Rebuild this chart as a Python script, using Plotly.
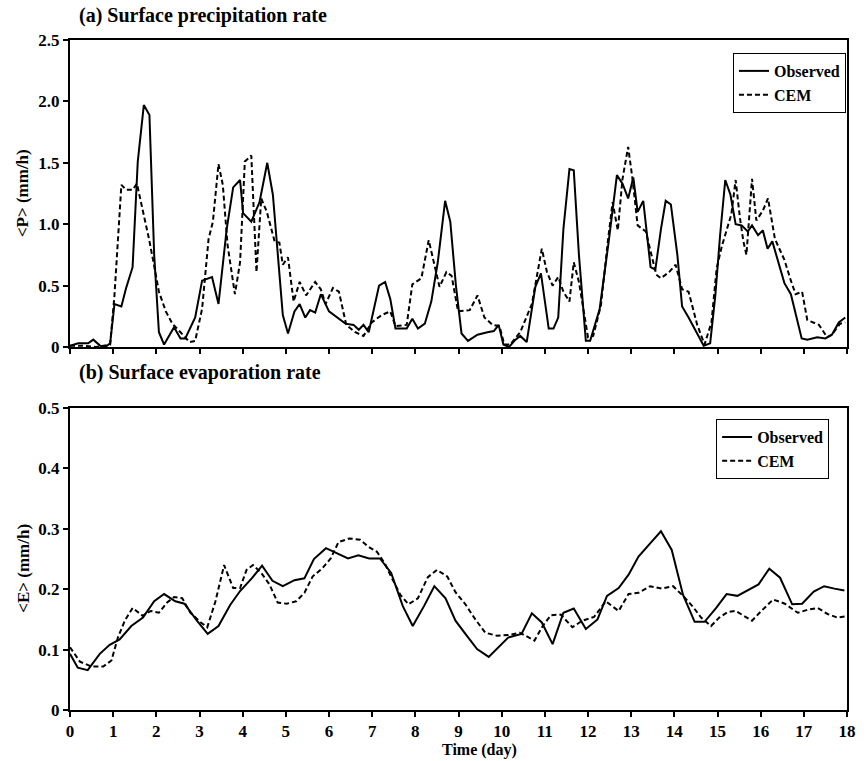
import plotly.graph_objects as go

# ---- (a) surface precipitation rate, mm/h ----
p_obs_t = [0.0, 0.19, 0.42, 0.54, 0.70, 0.82, 0.93, 1.03, 1.19, 1.30, 1.45, 1.57, 1.71, 1.84, 1.95,
           2.06, 2.18, 2.41, 2.56, 2.67, 2.90, 3.06, 3.29, 3.44, 3.63, 3.78, 3.94, 4.01, 4.20, 4.39,
           4.57, 4.70, 4.93, 5.05, 5.20, 5.32, 5.45, 5.56, 5.68, 5.81, 6.00, 6.20, 6.38, 6.57, 6.69,
           6.80, 6.92, 7.16, 7.30, 7.42, 7.54, 7.80, 7.93, 8.06, 8.22, 8.37, 8.52, 8.69, 8.81, 8.94,
           9.07, 9.22, 9.44, 9.67, 9.82, 9.93, 10.04, 10.17, 10.32, 10.43, 10.58, 10.78, 10.91, 11.09,
           11.20, 11.31, 11.43, 11.57, 11.67, 11.79, 11.95, 12.05, 12.27, 12.48, 12.67, 12.80, 12.93,
           13.05, 13.15, 13.28, 13.45, 13.56, 13.69, 13.80, 13.92, 14.07, 14.18, 14.33, 14.53, 14.68,
           14.83, 14.95, 15.06, 15.18, 15.30, 15.42, 15.56, 15.70, 15.80, 15.94, 16.05, 16.16, 16.27,
           16.55, 16.70, 16.95, 17.08, 17.31, 17.50, 17.65, 17.81, 17.96]
p_obs = [0.01, 0.03, 0.03, 0.06, 0.01, 0.00, 0.03, 0.35, 0.33, 0.48, 0.65, 1.51, 1.97, 1.89, 0.75,
         0.12, 0.02, 0.16, 0.07, 0.07, 0.24, 0.54, 0.57, 0.35, 0.96, 1.30, 1.36, 1.09, 1.02, 1.18,
         1.50, 1.24, 0.26, 0.11, 0.29, 0.35, 0.24, 0.30, 0.28, 0.43, 0.29, 0.24, 0.19, 0.18, 0.14,
         0.18, 0.12, 0.50, 0.53, 0.39, 0.15, 0.15, 0.23, 0.15, 0.19, 0.37, 0.69, 1.19, 1.02, 0.50,
         0.11, 0.05, 0.10, 0.12, 0.13, 0.18, 0.02, 0.00, 0.06, 0.09, 0.04, 0.49, 0.60, 0.15,
         0.15, 0.24, 0.96, 1.45, 1.44, 0.75, 0.05, 0.05, 0.31, 0.86, 1.40, 1.33, 1.21,
         1.38, 1.10, 1.19, 0.65, 0.63, 0.96, 1.19, 1.16, 0.75, 0.33, 0.24, 0.11, 0.01,
         0.03, 0.42, 0.91, 1.36, 1.24, 1.00, 0.99, 0.94, 0.99, 0.91, 0.95, 0.80, 0.86,
         0.52, 0.43, 0.07, 0.06, 0.08, 0.07, 0.10, 0.20, 0.24]

p_cem_t = [0.0, 0.30, 0.60, 0.93, 1.03, 1.19, 1.30, 1.45, 1.55, 1.68, 1.83, 1.95, 2.06, 2.22, 2.37,
           2.56, 2.77, 2.90, 3.06, 3.21, 3.31, 3.44, 3.54, 3.65, 3.82, 3.94, 4.05, 4.20, 4.32, 4.43,
           4.56, 4.74, 4.85, 4.93, 5.05, 5.18, 5.32, 5.47, 5.68, 5.81, 5.92, 6.09, 6.23, 6.40, 6.61,
           6.80, 6.99, 7.22, 7.42, 7.54, 7.80, 7.93, 8.14, 8.31, 8.45, 8.56, 8.72, 8.84, 8.99, 9.26,
           9.44, 9.60, 9.79, 9.95, 10.06, 10.20, 10.36, 10.43, 10.70, 10.93, 11.05, 11.18, 11.31,
           11.43, 11.57, 11.67, 11.79, 11.92, 12.00, 12.12, 12.30, 12.46, 12.57, 12.69, 12.80, 12.93,
           13.03, 13.15, 13.34, 13.58, 13.69, 13.88, 14.03, 14.18, 14.33, 14.53, 14.70, 14.86, 14.98,
           15.10, 15.23, 15.32, 15.42, 15.52, 15.60, 15.67, 15.80, 15.90, 16.05, 16.17, 16.33, 16.55,
           16.70, 16.81, 16.96, 17.08, 17.35, 17.54, 17.65, 17.84, 17.96]
p_cem = [0.01, 0.01, 0.00, 0.02, 0.42, 1.32, 1.28, 1.28, 1.33, 1.13, 0.88, 0.66, 0.45, 0.29, 0.19,
         0.12, 0.04, 0.05, 0.31, 0.88, 1.02, 1.49, 1.32, 0.83, 0.43, 0.69, 1.51, 1.56, 0.61, 1.21,
         1.10, 0.86, 0.85, 0.67, 0.73, 0.37, 0.53, 0.42, 0.53, 0.47, 0.35, 0.48, 0.45, 0.18, 0.12,
         0.09, 0.20, 0.26, 0.29, 0.17, 0.18, 0.51, 0.56, 0.87, 0.66, 0.49, 0.61, 0.58, 0.29, 0.30,
         0.42, 0.24, 0.18, 0.17, 0.02, 0.02, 0.09, 0.12, 0.35, 0.80, 0.61, 0.50, 0.57,
         0.45, 0.37, 0.69, 0.53, 0.26, 0.08, 0.09, 0.34, 0.86, 1.18, 0.95, 1.37, 1.63,
         1.37, 0.99, 0.94, 0.59, 0.56, 0.61, 0.67, 0.47, 0.45, 0.18, 0.02, 0.20, 0.64,
         0.82, 0.98, 1.08, 1.36, 1.05, 0.86, 0.75, 1.37, 1.03, 1.11, 1.21, 0.88, 0.71,
         0.54, 0.43, 0.45, 0.22, 0.18, 0.08, 0.10, 0.19, 0.20]

# ---- (b) surface evaporation rate, mm/h ----
e_obs_t = [0.0, 0.18, 0.41, 0.69, 0.92, 1.15, 1.42, 1.69, 1.95, 2.18, 2.44, 2.65, 2.94, 3.19, 3.44,
           3.71, 3.94, 4.21, 4.45, 4.69, 4.93, 5.20, 5.43, 5.65, 5.93, 6.19, 6.44, 6.68, 6.93, 7.18,
           7.44, 7.71, 7.94, 8.20, 8.44, 8.70, 8.93, 9.16, 9.43, 9.70, 9.93, 10.15, 10.46, 10.70,
           10.93, 11.18, 11.43, 11.67, 11.95, 12.22, 12.44, 12.71, 12.94, 13.17, 13.44, 13.69, 13.94,
           14.20, 14.47, 14.70, 14.97, 15.21, 15.46, 15.71, 15.95, 16.20, 16.45, 16.73, 16.96, 17.23,
           17.47, 17.71, 17.94]
e_obs = [0.093, 0.070, 0.066, 0.093, 0.108, 0.117, 0.139, 0.153, 0.180, 0.192, 0.180, 0.176, 0.148,
         0.126, 0.139, 0.174, 0.197, 0.218, 0.239, 0.214, 0.205, 0.215, 0.218, 0.250, 0.268, 0.260,
         0.251, 0.256, 0.251, 0.251, 0.227, 0.172, 0.139, 0.172, 0.205, 0.185, 0.148, 0.126, 0.101,
         0.088, 0.104, 0.120, 0.126, 0.160, 0.145, 0.109, 0.161, 0.168, 0.134, 0.150, 0.189, 0.202,
         0.224, 0.254, 0.276, 0.296, 0.265, 0.191, 0.146, 0.146, 0.169, 0.192, 0.189, 0.199, 0.208,
         0.234, 0.219, 0.175, 0.176, 0.196, 0.205, 0.201, 0.198]

e_cem_t = [0.0, 0.23, 0.50, 0.77, 0.96, 1.11, 1.27, 1.45, 1.68, 1.87, 2.06, 2.25, 2.41, 2.60, 2.79,
           3.03, 3.18, 3.37, 3.57, 3.78, 3.94, 4.09, 4.24, 4.43, 4.62, 4.81, 5.02, 5.24, 5.43, 5.62,
           5.85, 6.04, 6.22, 6.47, 6.72, 6.92, 7.11, 7.29, 7.46, 7.65, 7.84, 8.06, 8.29, 8.50, 8.74,
           8.93, 9.16, 9.39, 9.62, 9.89, 10.15, 10.42, 10.76, 10.95, 11.14, 11.37, 11.64, 11.87,
           12.14, 12.41, 12.71, 12.94, 13.17, 13.44, 13.71, 13.97, 14.20, 14.43, 14.62, 14.85, 15.04,
           15.23, 15.42, 15.61, 15.80, 16.03, 16.29, 16.56, 16.86, 17.09, 17.32, 17.55, 17.78, 17.97]
e_cem = [0.104, 0.080, 0.072, 0.072, 0.082, 0.120, 0.148, 0.169, 0.156, 0.164, 0.161, 0.178, 0.187,
         0.185, 0.161, 0.145, 0.137, 0.180, 0.240, 0.202, 0.202, 0.232, 0.240, 0.227, 0.208, 0.178,
         0.176, 0.180, 0.194, 0.221, 0.235, 0.251, 0.278, 0.284, 0.282, 0.270, 0.262, 0.243, 0.218,
         0.191, 0.175, 0.185, 0.220, 0.232, 0.221, 0.195, 0.175, 0.150, 0.128, 0.123, 0.124, 0.128,
         0.115, 0.139, 0.157, 0.158, 0.137, 0.148, 0.154, 0.180, 0.164, 0.192, 0.194, 0.205, 0.201,
         0.205, 0.189, 0.171, 0.153, 0.139, 0.153, 0.162, 0.164, 0.156, 0.148, 0.165, 0.183, 0.176,
         0.161, 0.166, 0.169, 0.159, 0.153, 0.155]

day_ticks = list(range(0, 19))
p_tickvals = [0, 0.5, 1.0, 1.5, 2.0, 2.5]
p_ticktext = ["0", "0.5", "1.0", "1.5", "2.0", "2.5"]
e_tickvals = [0, 0.1, 0.2, 0.3, 0.4, 0.5]
e_ticktext = ["0", "0.1", "0.2", "0.3", "0.4", "0.5"]

SERIF = "Liberation Serif"
solid = dict(color="black", width=2)
dashed = dict(color="black", width=2, dash="5px,3px")

fig = go.Figure()
fig.add_trace(go.Scatter(x=p_obs_t, y=p_obs, mode="lines", line=solid, name="Observed",
                         xaxis="x", yaxis="y", legend="legend"))
fig.add_trace(go.Scatter(x=p_cem_t, y=p_cem, mode="lines", line=dashed, name="CEM",
                         xaxis="x", yaxis="y", legend="legend"))
fig.add_trace(go.Scatter(x=e_obs_t, y=e_obs, mode="lines", line=solid, name="Observed",
                         xaxis="x2", yaxis="y2", legend="legend2"))
fig.add_trace(go.Scatter(x=e_cem_t, y=e_cem, mode="lines", line=dashed, name="CEM",
                         xaxis="x2", yaxis="y2", legend="legend2"))

axis_common = dict(showline=True, linecolor="black", linewidth=2, mirror=True,
                   ticks="outside", ticklen=5, tickwidth=2, tickcolor="black",
                   showgrid=False, zeroline=False,
                   tickfont=dict(family=SERIF, size=17, color="black", weight="bold"))

legend_common = dict(bgcolor="white", bordercolor="black", borderwidth=1,
                     font=dict(family=SERIF, size=16, color="black", weight="bold"),
                     xanchor="right", yanchor="top", tracegroupgap=0)

fig.update_layout(
    width=867, height=761,
    margin=dict(l=70, r=11, t=40, b=51),
    plot_bgcolor="white", paper_bgcolor="white",
    xaxis=dict(domain=[0, 1], range=[0, 18], tickvals=day_ticks, showticklabels=False,
               anchor="y", **axis_common),
    yaxis=dict(domain=[0.5418, 1], range=[0, 2.5], tickvals=p_tickvals, ticktext=p_ticktext,
               anchor="x", **axis_common),
    xaxis2=dict(domain=[0, 1], range=[0, 18], tickvals=day_ticks, anchor="y2", **axis_common),
    yaxis2=dict(domain=[0, 0.4507], range=[0, 0.5], tickvals=e_tickvals, ticktext=e_ticktext,
                anchor="x2", **axis_common),
    legend=dict(x=0.9987, y=0.9806, **legend_common),
    legend2=dict(x=0.977, y=0.4343, **legend_common),
    showlegend=True,
)

title_font = dict(family=SERIF, size=20, color="black", weight="bold")
label_font = dict(family=SERIF, size=17, color="black", weight="bold")
fig.add_annotation(text="(a) Surface precipitation rate", xref="paper", yref="paper",
                   x=0.009, y=1.0373, xanchor="left", yanchor="middle", showarrow=False,
                   font=title_font)
fig.add_annotation(text="(b) Surface evaporation rate", xref="paper", yref="paper",
                   x=0.009, y=0.503, xanchor="left", yanchor="middle", showarrow=False,
                   font=title_font)
fig.add_annotation(text="&lt;P&gt; (mm/h)", xref="paper", yref="y domain",
                   x=-0.061, y=0.5, xanchor="center", yanchor="middle", textangle=-90,
                   showarrow=False, font=label_font)
fig.add_annotation(text="&lt;E&gt; (mm/h)", xref="paper", yref="y2 domain",
                   x=-0.061, y=0.47, xanchor="center", yanchor="middle", textangle=-90,
                   showarrow=False, font=label_font)
# x-axis title sits on the bottom edge of the page
fig.add_annotation(text="Time (day)", xref="paper", yref="paper",
                   x=0.527, y=-0.0761, xanchor="center", yanchor="bottom", showarrow=False,
                   font=dict(family=SERIF, size=16, color="black", weight="bold"))

fig.write_html("out.html")
